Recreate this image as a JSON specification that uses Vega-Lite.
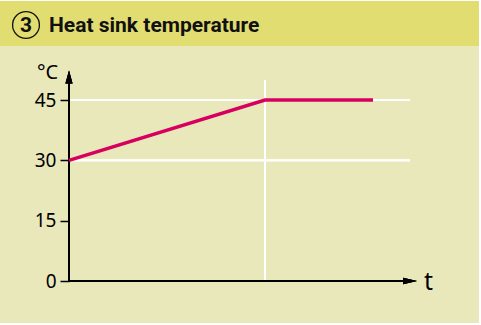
{
  "$schema": "https://vega.github.io/schema/vega-lite/v6.json",
  "background": "#ffffff",
  "padding": {"top": 1, "left": 0, "right": 2, "bottom": 2},
  "spacing": 0,
  "bounds": "flush",
  "config": {"view": {"stroke": null}, "font": "Noto Sans"},
  "vconcat": [
    {
      "width": 479,
      "height": 45,
      "view": {"fill": "#e2dd70", "stroke": null},
      "data": {"values": [{"num": "3", "title": "Heat sink temperature"}]},
      "layer": [
        {
          "mark": {"type": "point", "shape": "circle", "size": 720, "filled": false, "stroke": "#111111", "strokeWidth": 1.3, "opacity": 1},
          "encoding": {
            "x": {"datum": 26, "type": "quantitative", "scale": {"domain": [0, 479], "nice": false, "zero": false}, "axis": null},
            "y": {"datum": 24, "type": "quantitative", "scale": {"domain": [45, 0], "nice": false, "zero": false}, "axis": null}
          }
        },
        {
          "mark": {"type": "text", "font": "Roboto", "fontWeight": "bold", "fontSize": 21, "align": "center", "baseline": "middle", "color": "#111111"},
          "encoding": {
            "x": {"datum": 26, "type": "quantitative"},
            "y": {"datum": 24.5, "type": "quantitative"},
            "text": {"field": "num"}
          }
        },
        {
          "mark": {"type": "text", "font": "Roboto", "fontWeight": "bold", "fontSize": 21, "align": "left", "baseline": "alphabetic", "color": "#111111"},
          "encoding": {
            "x": {"datum": 49, "type": "quantitative"},
            "y": {"datum": 31, "type": "quantitative"},
            "text": {"field": "title"}
          }
        }
      ]
    },
    {
      "width": 479,
      "height": 277,
      "view": {"fill": "#e9e8bb", "stroke": null},
      "data": {"values": [
        {"t": 0, "temp": 30},
        {"t": 196, "temp": 45},
        {"t": 304, "temp": 45}
      ]},
      "layer": [
        {
          "mark": {"type": "rule", "color": "#ffffff", "strokeWidth": 1.6},
          "encoding": {
            "x": {"datum": 0, "type": "quantitative"},
            "x2": {"datum": 341},
            "y": {"datum": 30, "type": "quantitative"}
          }
        },
        {
          "mark": {"type": "rule", "color": "#ffffff", "strokeWidth": 1.6},
          "encoding": {
            "x": {"datum": 0, "type": "quantitative"},
            "x2": {"datum": 341},
            "y": {"datum": 45, "type": "quantitative"}
          }
        },
        {
          "mark": {"type": "rule", "color": "#ffffff", "strokeWidth": 1.6},
          "encoding": {
            "x": {"datum": 196, "type": "quantitative"},
            "y": {"datum": 0, "type": "quantitative"},
            "y2": {"datum": 50}
          }
        },
        {
          "mark": {"type": "rule", "color": "#000000", "strokeWidth": 2},
          "encoding": {
            "x": {"datum": 0, "type": "quantitative"},
            "y": {"datum": 0, "type": "quantitative"},
            "y2": {"datum": 50}
          }
        },
        {
          "mark": {"type": "rule", "color": "#000000", "strokeWidth": 2},
          "encoding": {
            "x": {"datum": 0, "type": "quantitative"},
            "x2": {"datum": 336},
            "y": {"datum": 0, "type": "quantitative"}
          }
        },
        {
          "mark": {"type": "point", "shape": "M0,-1L0.55,1L-0.55,1Z", "size": 169, "filled": true, "color": "#000000", "opacity": 1},
          "encoding": {
            "x": {"datum": 0, "type": "quantitative"},
            "y": {"datum": 50.7, "type": "quantitative"}
          }
        },
        {
          "mark": {"type": "point", "shape": "M1,0L-1,-0.45L-1,0.45Z", "size": 196, "filled": true, "color": "#000000", "opacity": 1},
          "encoding": {
            "x": {"datum": 341, "type": "quantitative"},
            "y": {"datum": 0, "type": "quantitative"}
          }
        },
        {
          "mark": {"type": "line", "color": "#d8005f", "strokeWidth": 3.5, "strokeCap": "butt"},
          "encoding": {
            "x": {
              "field": "t", "type": "quantitative",
              "scale": {"domain": [-69, 410], "nice": false, "zero": false},
              "axis": {"offset": -42, "domain": false, "ticks": false, "labels": false, "grid": false, "title": "t", "titleX": 428, "titleY": 0, "titleAlign": "center", "titleBaseline": "middle", "titleFontSize": 25, "titleFontWeight": "normal", "titleColor": "#000000", "titleFont": "Noto Sans"}
            },
            "y": {
              "field": "temp", "type": "quantitative",
              "scale": {"domain": [-10.44, 58.43], "nice": false, "zero": false},
              "axis": {"offset": -69, "values": [0, 15, 30, 45], "domain": false, "grid": false, "ticks": true, "tickColor": "#000000", "tickSize": 9, "tickWidth": 1.5, "labelFontSize": 19, "labelColor": "#000000", "labelPadding": 4, "labelFont": "Noto Sans", "title": "°C", "titleAngle": 0, "titleX": -22, "titleY": 26, "titleAlign": "center", "titleBaseline": "middle", "titleFontSize": 20, "titleFontWeight": "normal", "titleColor": "#000000", "titleFont": "Noto Sans"}
            }
          }
        }
      ]
    }
  ]
}
